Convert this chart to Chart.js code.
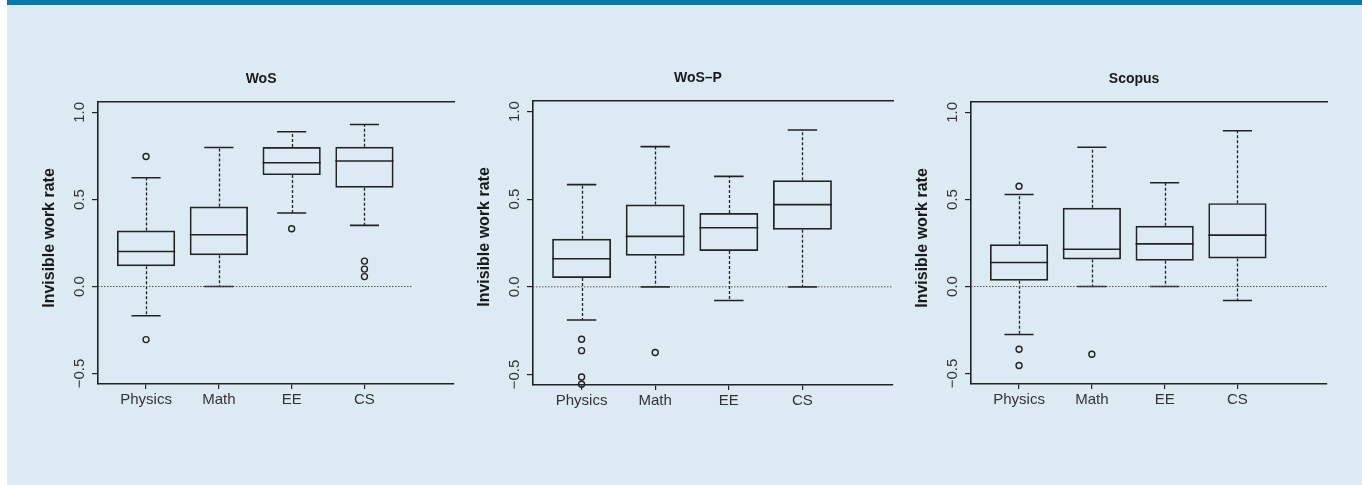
<!DOCTYPE html>
<html>
<head>
<meta charset="utf-8">
<script src="https://cdn.jsdelivr.net/npm/chart.js@4.4.1/dist/chart.umd.min.js"></script>
<style>
  html, body { margin: 0; padding: 0; background: #fff; }
  #page { position: absolute; left: 7px; top: 0; width: 1355px; height: 485px; background: #dceaf4; }
  #bar { position: absolute; left: 0; top: 0; width: 1355px; height: 5px; background: #0079a8; }
  canvas { position: absolute; }
</style>
</head>
<body>
<div id="page"><div id="bar"></div></div>
<canvas id="c1"></canvas>
<canvas id="c2"></canvas>
<canvas id="c3"></canvas>
<script>
const categories = ["Physics", "Math", "EE", "CS"];
const yTicks = [-0.5, 0, 0.5, 1];

// WoS
const wosLow = [-0.168, 0.0, 0.422, 0.351];
const wosQ1 = [0.117, 0.18, 0.64, 0.567];
const wosMed = [0.201, 0.297, 0.711, 0.721];
const wosQ3 = [0.322, 0.46, 0.801, 0.803];
const wosHigh = [0.625, 0.799, 0.889, 0.931];
const wosOut = [[0.747, -0.305], [], [0.332], [0.146, 0.1, 0.057]];

// WoS-P
const wospLow = [-0.189, 0.0, -0.078, 0.0];
const wospQ1 = [0.051, 0.177, 0.204, 0.326];
const wospMed = [0.16, 0.288, 0.337, 0.469];
const wospQ3 = [0.274, 0.47, 0.421, 0.608];
const wospHigh = [0.583, 0.8, 0.63, 0.895];
const wospOut = [[-0.299, -0.364, -0.514, -0.556], [-0.375], [], []];

// Scopus
const scoLow = [-0.276, 0.0, 0.0, -0.08];
const scoQ1 = [0.033, 0.155, 0.148, 0.161];
const scoMed = [0.138, 0.214, 0.245, 0.295];
const scoQ3 = [0.243, 0.452, 0.349, 0.479];
const scoHigh = [0.529, 0.8, 0.596, 0.895];
const scoOut = [[0.576, -0.36, -0.454], [-0.389], [], []];

const INK = "#222";
const FONT = "'Liberation Sans', Arial, sans-serif";

// bigotes, topes y mediana
const boxWhiskers = {
    id: "boxWhiskers",
    beforeDatasetsDraw(chart, args, opts) {
        const { ctx, scales: { x, y } } = chart;
        ctx.save();
        ctx.strokeStyle = INK;
        opts.med.forEach((m, i) => {
            const cx = Math.round(x.getPixelForValue(i + 1)) + 0.5;
            const sL = x.getPixelForValue(i + 1 - 0.2);
            const sR = x.getPixelForValue(i + 1 + 0.2);
            ctx.lineWidth = 1.3;
            ctx.setLineDash([3, 2]);
            ctx.beginPath();
            ctx.moveTo(cx, y.getPixelForValue(opts.q3[i]));
            ctx.lineTo(cx, y.getPixelForValue(opts.high[i]));
            ctx.moveTo(cx, y.getPixelForValue(opts.q1[i]));
            ctx.lineTo(cx, y.getPixelForValue(opts.low[i]));
            ctx.stroke();
            ctx.setLineDash([]);
            ctx.lineWidth = 1.6;
            ctx.beginPath();
            ctx.moveTo(sL, y.getPixelForValue(opts.high[i]));
            ctx.lineTo(sR, y.getPixelForValue(opts.high[i]));
            ctx.moveTo(sL, y.getPixelForValue(opts.low[i]));
            ctx.lineTo(sR, y.getPixelForValue(opts.low[i]));
            ctx.stroke();
        });
        ctx.restore();
    },
    afterDatasetsDraw(chart, args, opts) {
        const { ctx, scales: { x, y } } = chart;
        ctx.save();
        ctx.strokeStyle = INK;
        ctx.lineWidth = 1.6;
        opts.med.forEach((m, i) => {
            ctx.beginPath();
            ctx.moveTo(x.getPixelForValue(i + 1 - 0.4), y.getPixelForValue(m));
            ctx.lineTo(x.getPixelForValue(i + 1 + 0.4), y.getPixelForValue(m));
            ctx.stroke();
        });
        ctx.restore();
    },
};

// título del panel y título del eje y
const panelText = {
    id: "panelText",
    afterDraw(chart, args, opts) {
        const { ctx, chartArea, scales: { x } } = chart;
        ctx.save();
        ctx.fillStyle = "#1a1a1a";
        ctx.textAlign = "center";
        ctx.textBaseline = "middle";
        ctx.font = "bold 14px " + FONT;
        ctx.fillText(opts.title, x.getPixelForValue(2.58), chartArea.top - 23);
        ctx.translate(chartArea.left - 48.5, chartArea.top + 136);
        ctx.rotate(-Math.PI / 2);
        ctx.font = "bold 16px " + FONT;
        ctx.fillText("Invisible work rate", 0, 0);
        ctx.restore();
    },
};

function makePanel(id, area, title, low, q1, med, q3, high, out, zeroEnd) {
    const canvas = document.getElementById(id);
    const yW = 78, padR = 16, xH = 30, top = 60, h = 360;
    const w = area.right - area.left + yW + padR;
    canvas.width = w;
    canvas.height = h;
    canvas.style.left = (area.left - yW) + "px";
    canvas.style.top = top + "px";

    const outliers = [];
    out.forEach((vals, i) => vals.forEach((v) => outliers.push({ x: i + 1, y: v })));

    new Chart(canvas.getContext("2d"), {
        type: "bar",
        data: {
            datasets: [
                {
                    type: "line",
                    data: [{ x: 0.34, y: 0 }, { x: zeroEnd, y: 0 }],
                    borderColor: "#555",
                    borderWidth: 1,
                    borderDash: [1.5, 1.5],
                    pointRadius: 0,
                    order: 3,
                },
                {
                    type: "bar",
                    data: categories.map((c, i) => ({ x: i + 1, y: [q1[i], q3[i]] })),
                    backgroundColor: "transparent",
                    borderColor: INK,
                    borderWidth: 1.7,
                    borderSkipped: false,
                    categoryPercentage: 1,
                    barPercentage: 0.8,
                    order: 2,
                },
                {
                    type: "scatter",
                    data: outliers,
                    pointRadius: 3,
                    borderWidth: 1.4,
                    borderColor: INK,
                    backgroundColor: "transparent",
                    clip: false,
                    order: 1,
                },
            ],
        },
        options: {
            responsive: false,
            animation: false,
            layout: { padding: { left: 0, right: padR, top: area.top - top, bottom: h - (area.bottom - top) - xH } },
            scales: {
                x: {
                    type: "linear",
                    position: "bottom",
                    offset: false,
                    min: 0.34,
                    max: 5.23,
                    afterBuildTicks: (s) => { s.ticks = categories.map((c, i) => ({ value: i + 1 })); },
                    afterFit: (s) => { s.height = xH; },
                    grid: { offset: false, drawOnChartArea: false, tickLength: 5, color: INK, lineWidth: 1.2 },
                    border: { color: INK, width: 1.6 },
                    ticks: {
                        padding: 2,
                        maxRotation: 0,
                        autoSkip: false,
                        color: "#333",
                        font: { family: FONT, size: 15 },
                        callback: (v) => categories[v - 1],
                    },
                },
                x2: {
                    type: "linear",
                    position: "top",
                    offset: false,
                    min: 0.34,
                    max: 5.23,
                    display: true,
                    afterFit: (s) => { s.height = 0; },
                    grid: { display: false },
                    ticks: { display: false },
                    border: { color: INK, width: 1.6 },
                },
                y: {
                    type: "linear",
                    min: -0.56,
                    max: 1.06,
                    afterBuildTicks: (s) => { s.ticks = yTicks.map((v) => ({ value: v })); },
                    afterFit: (s) => { s.width = yW; },
                    grid: { drawOnChartArea: false, tickLength: 6, color: INK, lineWidth: 1.2 },
                    border: { color: INK, width: 1.6 },
                    ticks: {
                        minRotation: 90,
                        maxRotation: 90,
                        crossAlign: "center",
                        padding: -2.5,
                        color: "#333",
                        font: { family: FONT, size: 15 },
                        callback: (v) => (v < 0 ? "\u2212" + Math.abs(v).toFixed(1) : v.toFixed(1)),
                    },
                },
            },
            plugins: {
                legend: { display: false },
                tooltip: { enabled: false },
                boxWhiskers: { low, q1, med, q3, high },
                panelText: { title },
            },
        },
        plugins: [boxWhiskers, panelText],
    });
}

makePanel("c1", { left: 98, right: 454, top: 102, bottom: 384 }, "WoS",
    wosLow, wosQ1, wosMed, wosQ3, wosHigh, wosOut, 4.65);
makePanel("c2", { left: 533, right: 893, top: 101, bottom: 385 }, "WoS\u2013P",
    wospLow, wospQ1, wospMed, wospQ3, wospHigh, wospOut, 5.23);
makePanel("c3", { left: 971, right: 1327, top: 102, bottom: 384 }, "Scopus",
    scoLow, scoQ1, scoMed, scoQ3, scoHigh, scoOut, 5.23);
</script>
</body>
</html>
